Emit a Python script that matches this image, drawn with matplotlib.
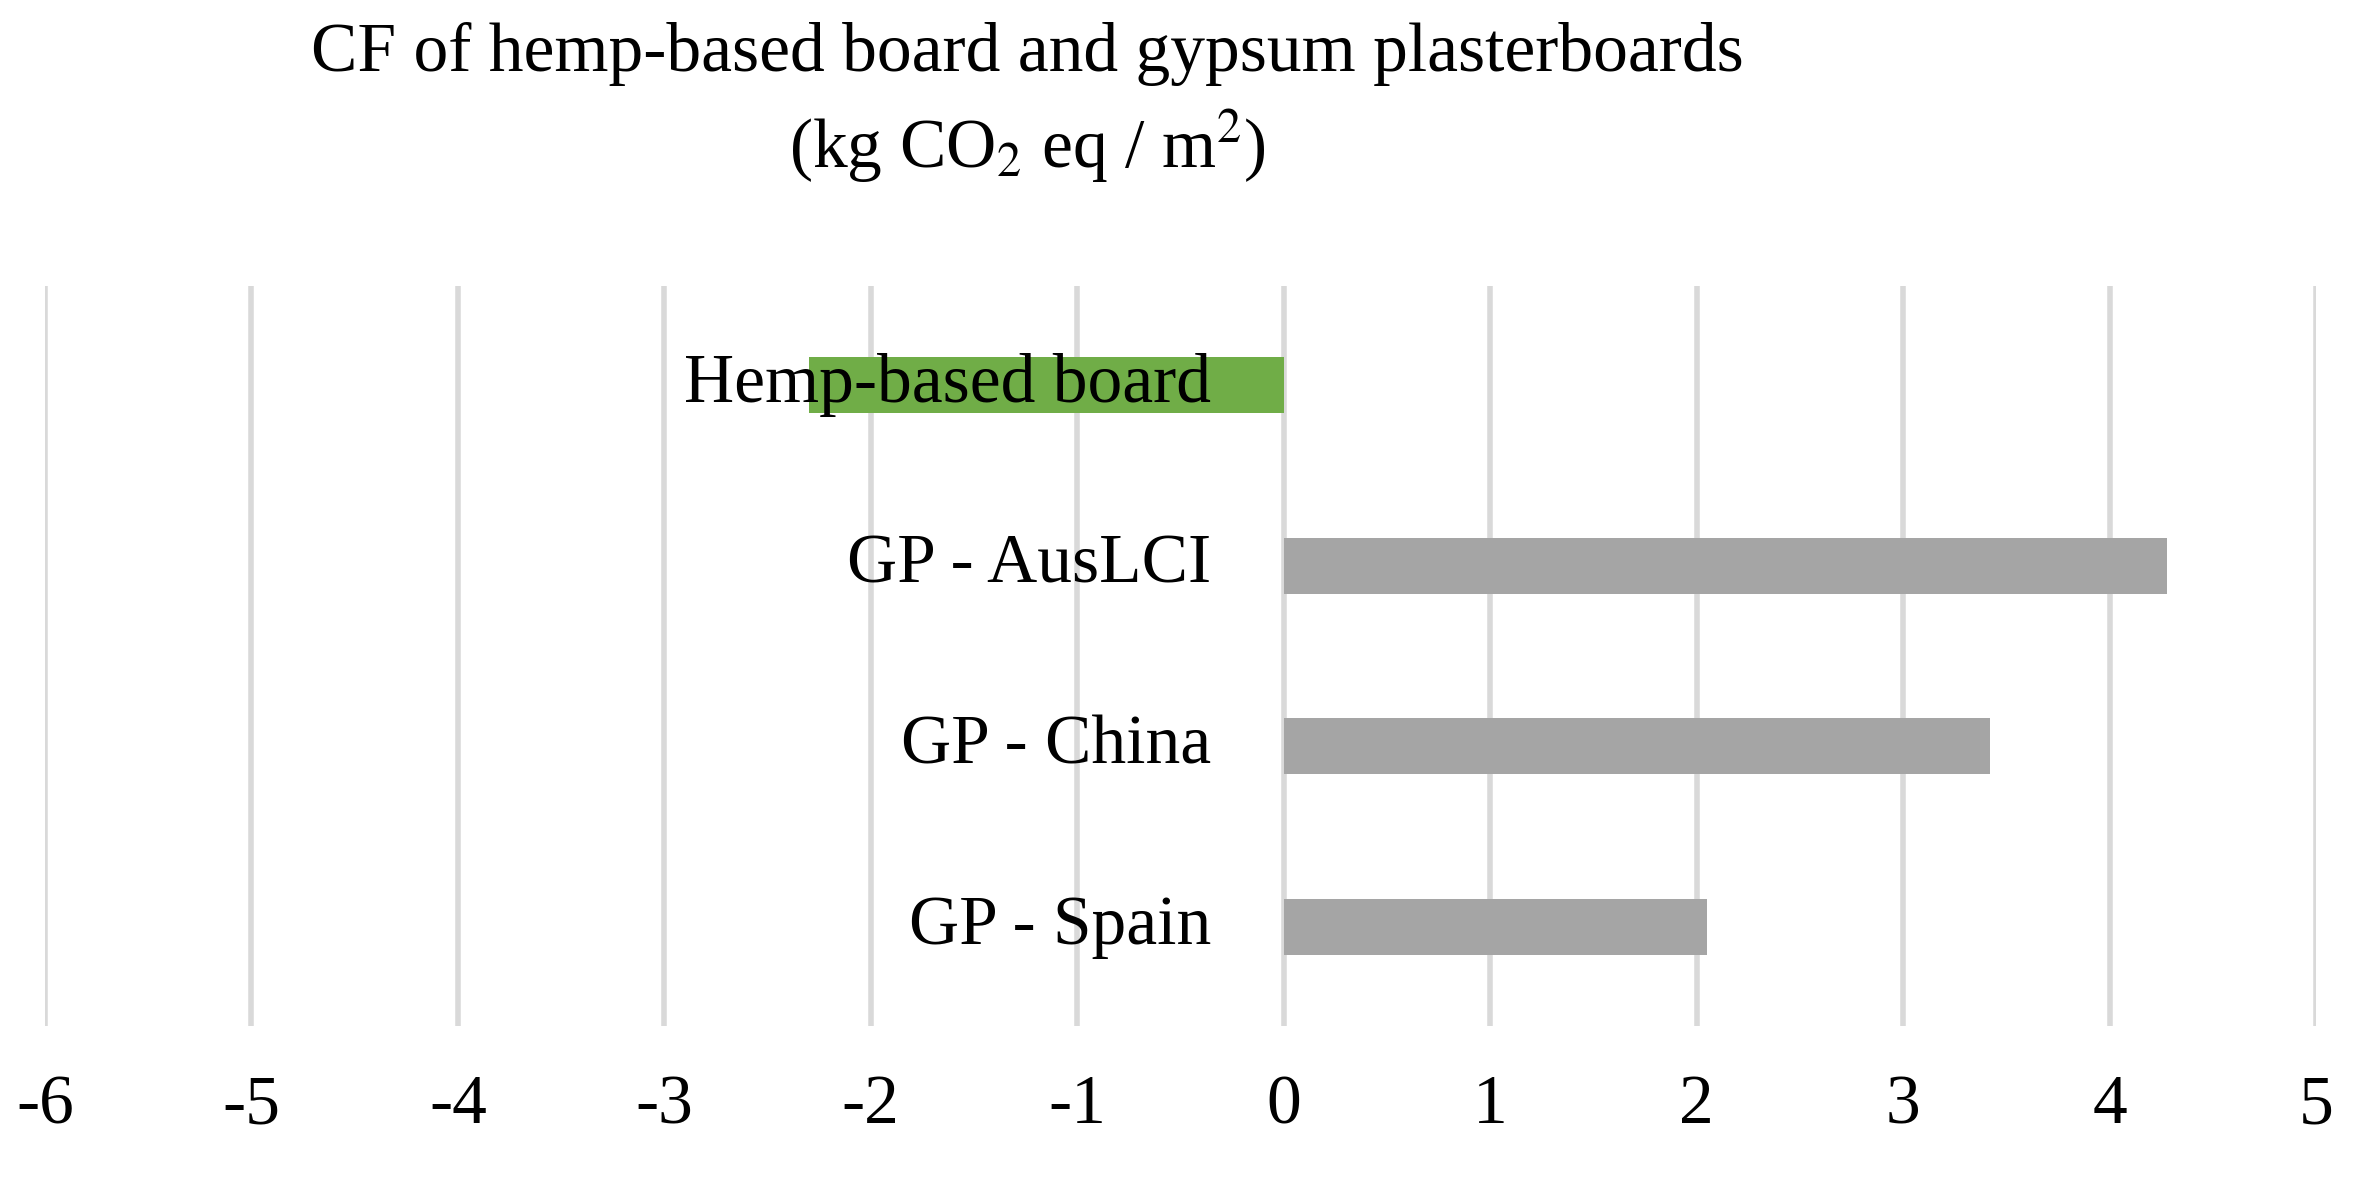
import matplotlib.pyplot as plt

categories = ["Hemp-based board", "GP - AusLCI", "GP - China", "GP - Spain"]
values = [-2.30, 4.28, 3.42, 2.05]
colors = ["#70ad47", "#a5a5a5", "#a5a5a5", "#a5a5a5"]
ticks = [-6, -5, -4, -3, -2, -1, 0, 1, 2, 3, 4, 5]

plt.rcParams['font.family'] = ['Liberation Serif', 'DejaVu Serif']
fs = 50

fig = plt.figure(figsize=(23.61, 11.92), dpi=100)
ax = fig.add_axes([0.019, 0.139, 0.962, 0.621])

y = list(range(len(categories)))
ax.barh(y, values, height=0.31, color=colors, zorder=2)
for yi, lab in zip(y, categories):
    ax.text(-0.35, yi, lab, ha='right', va='center', fontsize=fs, zorder=3)

ax.set_xlim(-6, 5)
ax.set_ylim(3.55, -0.55)
ax.set_xticks(ticks)
ax.set_xticklabels([str(t) for t in ticks], fontsize=fs)
ax.tick_params(axis='x', length=0, pad=35)
ax.set_yticks([])
ax.grid(axis='x', color='#d9d9d9', linewidth=4, zorder=0)
for s in ax.spines.values():
    s.set_visible(False)

fig.text(0.435, 0.955, "CF of hemp-based board and gypsum plasterboards",
         ha='center', va='center', fontsize=fs)
fig.text(0.435, 0.877, r"(kg CO$_2$ eq / m$^2$)", ha='center', va='center',
         fontsize=fs, math_fontfamily='stix')

fig.savefig("out.png", dpi=100)
